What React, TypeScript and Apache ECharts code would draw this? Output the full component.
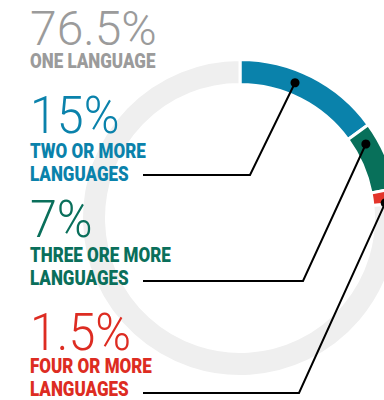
import React, { useEffect, useRef } from "react";
import * as echarts from "echarts";

// ---- data ----
const categories = ["ONE LANGUAGE", "TWO OR MORE\nLANGUAGES", "THREE ORE MORE\nLANGUAGES", "FOUR OR MORE\nLANGUAGES"];
const values = [76.5, 15, 7, 1.5];
const valueLabels = ["76.5%", "15%", "7%", "1.5%"];
const colors = ["#efefef", "#0a82ab", "#08705a", "#e3342a"];
const textColors = ["#9b9b9b", "#0a82ab", "#0a6f5b", "#dd2c22"];
// order around the ring, clockwise from 12 o'clock
const ringOrder = [1, 2, 3, 0];
// where on each highlighted segment the leader dot sits (fraction of the arc)
const dotFraction = [0, 0.41, 0.22, 0.9];

// ---- layout ----
const W = 384, H = 400;
const CX = 240, CY = 218, R_IN = 135, R_OUT = 157;
const numBase = [45, 133, 237, 350];
const numSize = [48, 51, 51, 51];
const numScaleX = [1.0, 0.95, 0.95, 0.95];
const subBase = [68, 158, 262, 373];
const SUB_GAP = 23;
const LEFT = 30;
const lineY = [0, 175, 281, 393];
const elbowX = [0, 250, 303, 299];
const lineStartX = 143;

export default function App() {
  const ref = useRef<HTMLDivElement>(null);
  useEffect(() => {
    document.body.style.margin = "0";
    const chart = echarts.init(ref.current!, null, { renderer: "svg" });
    const total = values.reduce((a, b) => a + b, 0);
    const rMid = (R_IN + R_OUT) / 2;

    // angles of each segment
    const angles: Record<number, { start: number; end: number }> = {};
    let cum = 0;
    ringOrder.forEach((i) => {
      const start = 90 - (360 * cum) / total;
      const end = start - (360 * values[i]) / total;
      angles[i] = { start, end };
      cum += values[i];
    });

    const graphics: any[] = [];
    values.forEach((_, i) => {
      const fsN = numSize[i];
      graphics.push({
        type: "text",
        x: LEFT,
        y: numBase[i] - 0.345 * fsN,
        scaleX: numScaleX[i],
        silent: true,
        z: 100,
        style: {
          text: valueLabels[i],
          x: 0,
          y: 0,
          fill: textColors[i],
          font: `300 ${fsN}px Roboto`,
          lineHeight: fsN - 3,
          verticalAlign: "middle",
          align: "left",
        },
      });
      const lines = categories[i].split("\n");
      const fsS = 20;
      lines.forEach((ln, k) => {
        graphics.push({
          type: "text",
          x: LEFT,
          y: subBase[i] + k * SUB_GAP - 0.345 * fsS,
          scaleX: 0.85,
          silent: true,
          z: 100,
          style: {
            text: ln,
            x: 0,
            y: 0,
            fill: textColors[i],
            font: `900 ${fsS}px Roboto`,
            lineHeight: 20,
            verticalAlign: "middle",
            align: "left",
          },
        });
      });
      if (i > 0) {
        const a = angles[i];
        const deg = a.start - dotFraction[i] * (a.start - a.end);
        const rad = (deg * Math.PI) / 180;
        const dx = CX + rMid * Math.cos(rad);
        const dy = CY - rMid * Math.sin(rad);
        graphics.push({
          type: "polyline",
          silent: true,
          z: 100,
          shape: { points: [[lineStartX, lineY[i]], [elbowX[i], lineY[i]], [dx, dy]] },
          style: { stroke: "#000", lineWidth: 2, fill: null },
        });
        graphics.push({
          type: "circle",
          silent: true,
          z: 101,
          shape: { cx: dx, cy: dy, r: 4.5 },
          style: { fill: "#000" },
        });
      }
    });

    chart.setOption({
      animation: false,
      series: [
        {
          type: "pie",
          z: 1,
          center: [CX, CY],
          radius: [R_IN - 1.5, R_OUT + 1.5],
          startAngle: 90,
          clockwise: true,
          silent: true,
          label: { show: false },
          labelLine: { show: false },
          itemStyle: { borderColor: "#fff", borderWidth: 3 },
          data: ringOrder.map((i) => ({
            name: categories[i],
            value: values[i],
            itemStyle: { color: colors[i] },
          })),
        },
      ],
      graphic: { elements: graphics },
    });
    return () => chart.dispose();
  }, []);
  return <div ref={ref} style={{ width: W, height: H }} />;
}
